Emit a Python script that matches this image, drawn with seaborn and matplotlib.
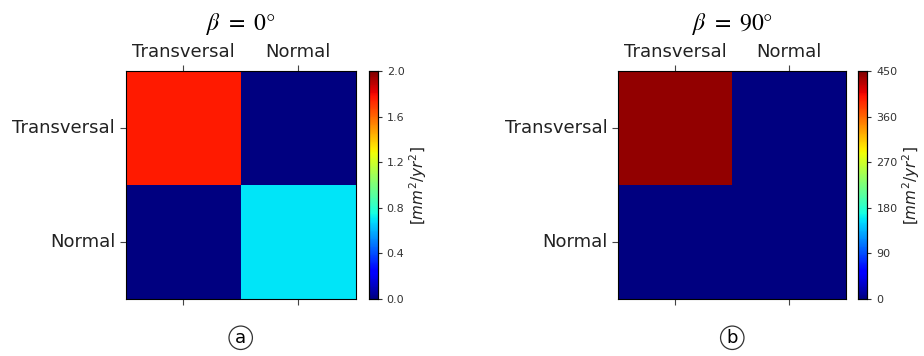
import numpy as np
import pandas as pd
import matplotlib
matplotlib.use("Agg")
import matplotlib.pyplot as plt
import seaborn as sns

labels = ["Transversal", "Normal"]
values_a = [[1.76, 0.0], [0.0, 0.70]]
values_b = [[442.0, 0.0], [0.0, 0.0]]
titles = [r"$\beta\ =\ 0°$", r"$\beta\ =\ 90°$"]
vmaxes = [2.0, 450]
cbar_ticks = [[0.0, 0.4, 0.8, 1.2, 1.6, 2.0], [0, 90, 180, 270, 360, 450]]
panel_tags = ["a", "b"]
cbar_label = r"$[mm^2/yr^2]$"

plt.rcParams['mathtext.fontset'] = 'stix'
fig = plt.figure(figsize=(9.24, 3.56), dpi=100)

ax_pos = [[0.136, 0.160, 0.249, 0.640], [0.669, 0.160, 0.247, 0.640]]
cb_pos = [[0.399, 0.160, 0.0097, 0.640], [0.929, 0.160, 0.0097, 0.640]]

for i, vals in enumerate([values_a, values_b]):
    df = pd.DataFrame(vals, index=labels, columns=labels)
    ax = fig.add_axes(ax_pos[i])
    cax = fig.add_axes(cb_pos[i])
    sns.heatmap(df, ax=ax, cbar_ax=cax, cmap="jet", vmin=0, vmax=vmaxes[i],
                square=False, cbar_kws={"ticks": cbar_ticks[i]})
    ax.xaxis.tick_top()
    ax.tick_params(axis='x', top=True, bottom=True, labeltop=True, labelbottom=False,
                   length=4, color='#444444')
    ax.tick_params(axis='y', length=4, rotation=0, color='#444444')
    ax.set_xticklabels(labels, fontsize=13, color='#222222')
    ax.set_yticklabels(labels, fontsize=13, rotation=0, color='#222222')
    for s in ax.spines.values():
        s.set_visible(True)
        s.set_linewidth(0.8)
    ax.set_title(titles[i], fontsize=17, pad=30)
    cax.tick_params(labelsize=8, length=3, colors='#333333')
    if i == 0:
        cax.set_yticklabels(["0.0", "0.4", "0.8", "1.2", "1.6", "2.0"])
    cax.set_ylabel(cbar_label, fontsize=11, labelpad=2, math_fontfamily='dejavusans',
                   color='#222222')
    for s in cax.spines.values():
        s.set_visible(True)
        s.set_linewidth(0.8)
    ax.text(0.5, -0.17, panel_tags[i], transform=ax.transAxes, ha='center', va='center',
            fontsize=13, bbox=dict(boxstyle='circle,pad=0.15', fc='white', ec='#333333', lw=0.9))

fig.savefig("out.png", dpi=100)
